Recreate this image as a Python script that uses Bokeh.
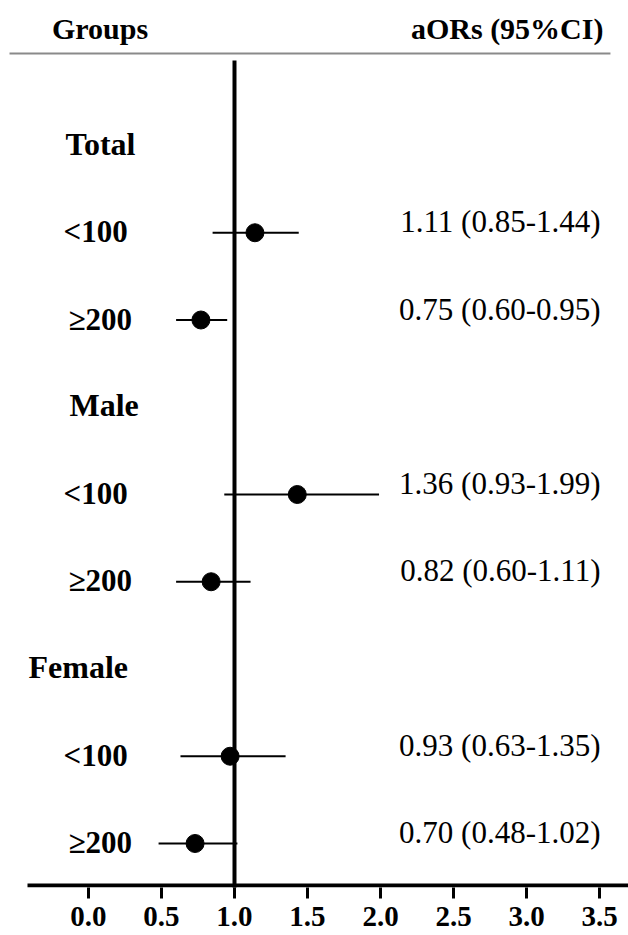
from bokeh.plotting import figure
from bokeh.models import Range1d, FixedTicker, ColumnDataSource
from bokeh.core.properties import value
from bokeh.embed import file_html
from bokeh.resources import INLINE

# ---------------- data ----------------
groups = ["Total", "Male", "Female"]
subgroups = ["<100", "≥200"]
or_values = [1.11, 0.75, 1.36, 0.82, 0.93, 0.70]
ci_low = [0.85, 0.60, 0.93, 0.60, 0.63, 0.48]
ci_high = [1.44, 0.95, 1.99, 1.11, 1.35, 1.02]
marker_pos = [1.14, 0.77, 1.43, 0.84, 0.97, 0.73]   # where the dots are drawn
x_ticks = [0.0, 0.5, 1.0, 1.5, 2.0, 2.5, 3.0, 3.5]
tick_labels = ["0.0", "0.5", "1.0", "1.5", "2.0", "2.5", "3.0", "3.5"]
header_left = "Groups"
header_right = "aORs (95%CI)"
ref_value = 1.0

# ---------------- layout ----------------
W, H = 628, 935
PX = 1 / 87.25          # one pixel in row units
FONT = "Liberation Serif"
Y_TOP, Y_BOT = -0.6619, 9.5043
X_LEFT, X_RIGHT = -0.6027, 3.6986

group_rows = [1 + 3 * i for i in range(len(groups))]
group_x = [-0.1575, -0.13, -0.411]
sub_x = [-0.171, -0.137]

p = figure(width=W, height=H, output_backend="svg", toolbar_location=None,
           x_range=Range1d(X_LEFT, X_RIGHT), y_range=Range1d(Y_BOT, Y_TOP),
           y_axis_location=None, min_border_left=0, min_border_right=0,
           min_border_top=0, min_border_bottom=48)
p.outline_line_color = None
p.xgrid.visible = False
p.ygrid.visible = False
p.background_fill_color = "white"
p.border_fill_color = "white"

# rows
est_rows, lab_rows, lab_text, lab_xs = [], [], [], []
for gi, g in enumerate(groups):
    r0 = group_rows[gi]
    lab_rows.append(r0); lab_text.append(g); lab_xs.append(group_x[gi])
    for si, s in enumerate(subgroups):
        est_rows.append(r0 + 1 + si)

head_src = ColumnDataSource(dict(x=lab_xs, y=lab_rows, t=lab_text))
p.text(x="x", y="y", text="t", source=head_src, text_font=value(FONT),
       text_font_style="bold", text_font_size="32px", text_align="left",
       text_baseline="middle", y_offset=-2, text_color="black")

sub_src = ColumnDataSource(dict(
    x=[sub_x[i % 2] for i in range(len(est_rows))], y=est_rows,
    t=[subgroups[i % 2] for i in range(len(est_rows))]))
p.text(x="x", y="y", text="t", source=sub_src, text_font=value(FONT),
       text_font_style="bold", text_font_size="31px", text_align="left",
       text_baseline="middle", y_offset=-1, text_color="black")

# header
p.text(x=[0.079], y=[-0.341], text=[header_left], text_font=value(FONT),
       text_font_style="bold", text_font_size="30px", text_align="center",
       text_baseline="middle", text_color="black")
p.text(x=[3.527], y=[-0.341], text=[header_right], text_font=value(FONT),
       text_font_style="bold", text_font_size="30px", text_align="right",
       text_baseline="middle", text_color="black")
p.segment(x0=[-0.541], x1=[3.575], y0=[-0.0544], y1=[-0.0544],
          line_color="#8a8a8a", line_width=2)

# reference line
p.segment(x0=[ref_value], x1=[ref_value], y0=[0.026], y1=[Y_BOT + 0.1],
          line_color="black", line_width=4)

# CIs and points
est_src = ColumnDataSource(dict(
    y=est_rows, lo=ci_low, hi=ci_high, m=marker_pos,
    lab=[f"{o:.2f} ({l:.2f}-{h:.2f})" for o, l, h in zip(or_values, ci_low, ci_high)],
    xr=[3.507] * len(est_rows)))
p.segment(x0="lo", x1="hi", y0="y", y1="y", source=est_src,
          line_color="black", line_width=2)
p.scatter(x="m", y="y", source=est_src, size=18, marker="circle",
          fill_color="black", line_color="black")
p.text(x="xr", y="y", text="lab", source=est_src, text_font=value(FONT),
       text_font_size="31px", text_align="right", text_baseline="middle",
       y_offset=-11, text_color="black")

# bottom axis line (drawn inside frame) and axis ticks/labels
p.segment(x0=[-0.4178], x1=[X_RIGHT], y0=[Y_BOT - 2 * PX], y1=[Y_BOT - 2 * PX],
          line_color="black", line_width=4)
ax = p.xaxis[0]
ax.ticker = FixedTicker(ticks=x_ticks, minor_ticks=[])
ax.major_label_overrides = {t: l for t, l in zip(x_ticks, tick_labels)}
ax.axis_line_color = None
ax.major_tick_in = 0
ax.major_tick_out = 11
ax.major_tick_line_width = 3
ax.major_tick_line_color = "black"
ax.minor_tick_line_color = None
ax.major_label_standoff = 8
ax.major_label_text_font = FONT
ax.major_label_text_font_style = "bold"
ax.major_label_text_font_size = "29px"
ax.major_label_text_color = "black"

open("out.html", "w").write(file_html(p, INLINE))
